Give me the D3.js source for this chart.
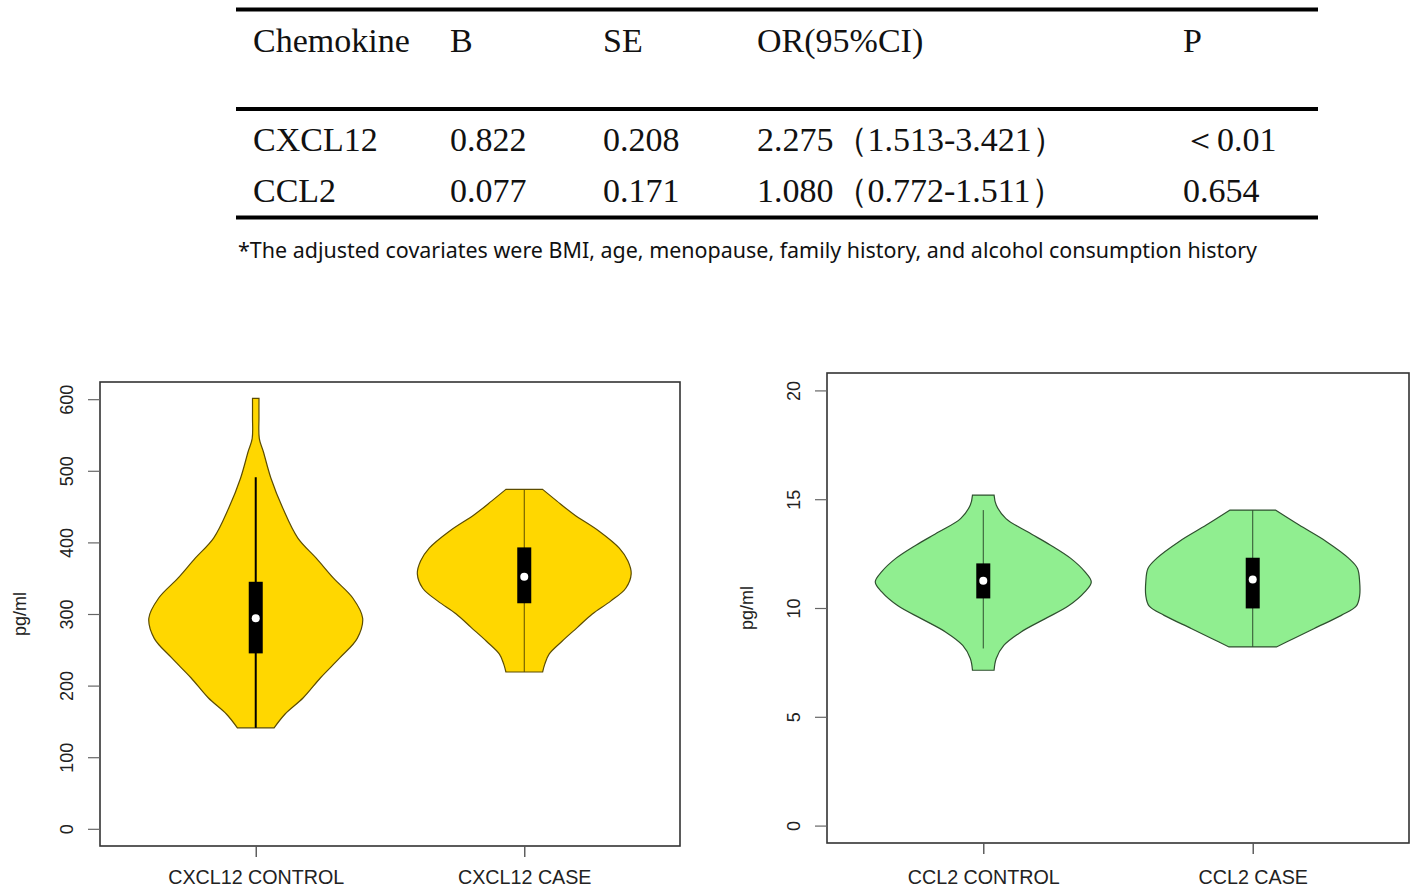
<!DOCTYPE html>
<html><head><meta charset="utf-8">
<script src="https://cdn.jsdelivr.net/npm/d3@7/dist/d3.min.js"></script>
<style>body{margin:0;background:#fff}</style>
</head><body><svg id="c" width="1417" height="895"></svg>
<script>
// ---------- table data ----------
const tableHeaders = ["Chemokine", "B", "SE", "OR(95%CI)", "P"];
const tableChemokines = ["CXCL12", "CCL2"];
const tableB = ["0.822", "0.077"];
const tableSE = ["0.208", "0.171"];
const tableOR = ["2.275", "1.080"];
const tableCI = ["1.513-3.421", "0.772-1.511"];
const tableP = ["＜0.01", "0.654"];
const footnote = "*The adjusted covariates were BMI, age, menopause, family history, and alcohol consumption history";

// ---------- CXCL12 panel data ----------
const cxclCategories = ["CXCL12 CONTROL", "CXCL12 CASE"];
const cxclTicks = [0, 100, 200, 300, 400, 500, 600];
// [value, relative density]
const cxclControlDensity = [[601,0.03],[575,0.03],[545,0.033],[527,0.07],[490,0.14],[448,0.25],[406,0.39],[378,0.56],[350,0.72],[322,0.90],[294,0.99],[266,0.94],[239,0.78],[211,0.60],[183,0.44],[160,0.27],[141,0.17]];
const cxclCaseDensity = [[474,0.17],[458,0.30],[439,0.46],[416,0.69],[392,0.88],[374,0.96],[356,0.99],[336,0.94],[318,0.80],[300,0.63],[281,0.49],[262,0.35],[244,0.23],[230,0.19],[219,0.17]];
// [whiskerLow, q1, median, q3, whiskerHigh]
const cxclControlBox = [141, 245, 294, 345, 491];
const cxclCaseBox = [219, 315, 352, 393, 474];

// ---------- CCL2 panel data ----------
const cclCategories = ["CCL2 CONTROL", "CCL2 CASE"];
const cclTicks = [0, 5, 10, 15, 20];
const cclControlDensity = [[15.19,0.10],[14.73,0.12],[14.11,0.21],[13.5,0.41],[12.9,0.62],[12.28,0.81],[11.67,0.94],[11.2,1.0],[10.74,0.94],[10.1,0.79],[9.5,0.57],[8.9,0.35],[8.28,0.19],[7.68,0.12],[7.14,0.10]];
const cclCaseDensity = [[14.5,0.21],[13.81,0.43],[13.06,0.68],[12.28,0.89],[11.82,0.97],[11.2,0.99],[10.57,0.99],[10.1,0.96],[9.66,0.82],[9.06,0.57],[8.6,0.38],[8.21,0.22]];
const cclControlBox = [8.14, 10.44, 11.25, 12.05, 14.5];
const cclCaseBox = [8.21, 9.98, 11.31, 12.31, 14.5];

// ---------- drawing ----------
const svg = d3.select("#c");
svg.append("rect").attr("width",1417).attr("height",895).attr("fill","#fff");

// Table
const tbl = svg.append("g");
const colX = [253, 450, 603, 757, 1183];
const serif = "'Liberation Serif','Times New Roman',serif";
[9.5, 109, 217.5].forEach(y => {
  tbl.append("line").attr("x1",236).attr("x2",1318).attr("y1",y).attr("y2",y)
    .attr("stroke","#000").attr("stroke-width",4);
});
tbl.selectAll("text.h").data(tableHeaders).join("text")
  .attr("x",(d,i)=>colX[i]).attr("y",52)
  .attr("font-family",serif).attr("font-size",34).attr("fill","#111").text(d=>d);
const rowsY = [151, 202];
tableChemokines.forEach((c, r) => {
  const vals = [c, tableB[r], tableSE[r], tableOR[r] + "（" + tableCI[r] + "）", tableP[r]];
  vals.forEach((v, i) => {
    tbl.append("text").attr("x", colX[i]).attr("y", rowsY[r])
      .attr("font-family", serif).attr("font-size", 34).attr("fill","#111").text(v);
  });
});
tbl.append("text").attr("x",238).attr("y",258)
  .attr("font-family","'Noto Sans','Open Sans',sans-serif").attr("font-size",21)
  .attr("textLength",1019).attr("lengthAdjust","spacingAndGlyphs")
  .attr("fill","#111").text(footnote);

function drawPanel(cfg) {
  const g = svg.append("g");
  const y = d3.scaleLinear().domain(cfg.yDomain).range([cfg.bottom, cfg.top]);
  const x = d3.scaleLinear().domain([0.42, 2.58]).range([cfg.left, cfg.right]);
  const w = d3.scaleLinear().domain([0, 1]).range([0, 108]);

  // violins
  cfg.densities.forEach((dens, i) => {
    const cx = x(i + 1);
    const area = d3.area()
      .y(d => y(d[0]))
      .x0(d => cx - w(d[1]))
      .x1(d => cx + w(d[1]))
      .curve(d3.curveCatmullRom.alpha(0.5));
    g.append("path").datum(dens).attr("d", area)
      .attr("fill", cfg.fill).attr("stroke", cfg.outline).attr("stroke-width", 1.2);
    const b = cfg.boxes[i];
    g.append("line").attr("x1",cx).attr("x2",cx).attr("y1",y(b[0])).attr("y2",y(b[4]))
      .attr("stroke", cfg.whiskerColor[i]).attr("stroke-width", cfg.whiskerWidth[i]);
    g.append("rect").attr("x",cx-7).attr("width",14).attr("y",y(b[3])).attr("height",y(b[1])-y(b[3]))
      .attr("fill","#000");
    g.append("circle").attr("cx",cx).attr("cy",y(b[2])).attr("r",4).attr("fill","#fff");
  });

  // frame
  g.append("rect").attr("x",cfg.left).attr("y",cfg.top)
    .attr("width",cfg.right-cfg.left).attr("height",cfg.bottom-cfg.top)
    .attr("fill","none").attr("stroke","#333").attr("stroke-width",1.6);

  // y axis
  const ya = g.append("g").attr("transform",`translate(${cfg.left},0)`)
    .call(d3.axisLeft(y).tickValues(cfg.ticks).tickSize(12).tickFormat(d3.format("d")));
  ya.select(".domain").remove();
  ya.selectAll(".tick line").attr("stroke","#666").attr("stroke-width",1.2);
  ya.selectAll(".tick text").attr("x",null).attr("dy",null).attr("text-anchor","middle")
    .attr("transform","translate(-27,0) rotate(-90)")
    .attr("font-family","'Liberation Sans',Arial,sans-serif").attr("font-size",18).attr("fill","#222");

  // x axis
  const xa = g.append("g").attr("transform",`translate(0,${cfg.bottom})`)
    .call(d3.axisBottom(x).tickValues([1,2]).tickSize(11).tickFormat(d => cfg.categories[d-1]));
  xa.select(".domain").remove();
  xa.selectAll(".tick line").attr("stroke","#555").attr("stroke-width",1.4);
  xa.selectAll(".tick text").attr("y", 884 - cfg.bottom).attr("dy", 0)
    .attr("font-family","'Liberation Sans',Arial,sans-serif").attr("font-size",19.7).attr("fill","#222");

  // y label
  g.append("text").attr("transform",`translate(${cfg.left-74},${(cfg.top+cfg.bottom)/2}) rotate(-90)`)
    .attr("text-anchor","middle").attr("font-family","'Liberation Sans',Arial,sans-serif")
    .attr("font-size",18).attr("fill","#222").text("pg/ml");
}

drawPanel({
  left: 100, right: 680, top: 382, bottom: 846,
  yDomain: [-24, 624], ticks: cxclTicks, categories: cxclCategories,
  densities: [cxclControlDensity, cxclCaseDensity], boxes: [cxclControlBox, cxclCaseBox],
  fill: "#FFD700", outline: "#5c4c00",
  whiskerColor: ["#000", "#5c4c00"], whiskerWidth: [2, 1]
});
drawPanel({
  left: 827, right: 1409, top: 373, bottom: 843,
  yDomain: [-0.8, 20.8], ticks: cclTicks, categories: cclCategories,
  densities: [cclControlDensity, cclCaseDensity], boxes: [cclControlBox, cclCaseBox],
  fill: "#90EE90", outline: "#2f4f2f",
  whiskerColor: ["#2f4f2f", "#2f4f2f"], whiskerWidth: [1, 1]
});
</script>
</body></html>
